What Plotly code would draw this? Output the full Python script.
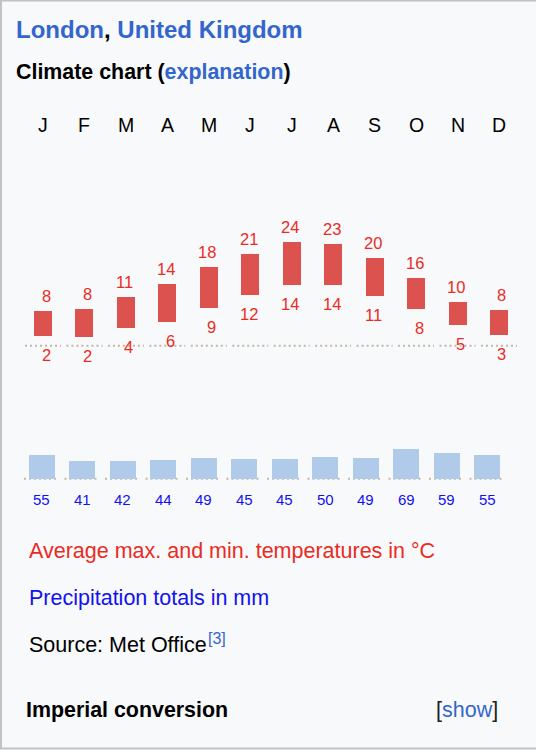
import plotly.graph_objects as go

# ---------------- data ----------------
months = ["J", "F", "M", "A", "M", "J", "J", "A", "S", "O", "N", "D"]
temp_max = [8.1, 8.6, 11.4, 14.4, 18.4, 21.5, 24.3, 23.8, 20.5, 15.9, 10.2, 8.3]
temp_min = [2.3, 2.1, 4.2, 5.6, 8.9, 11.9, 14.3, 14.1, 11.7, 8.7, 4.9, 2.6]
temp_max_labels = ["8", "8", "11", "14", "18", "21", "24", "23", "20", "16", "10", "8"]
temp_min_labels = ["2", "2", "4", "6", "9", "12", "14", "14", "11", "8", "5", "3"]
precip = [55, 41, 42, 44, 49, 45, 45, 50, 49, 69, 59, 55]
precip_labels = ["55", "41", "42", "44", "49", "45", "45", "50", "49", "69", "59", "55"]

# ---------------- layout helpers ----------------
W, H = 536, 752
def fx(px):
    return px / W
def fy(py):
    return 1 - py / H

FONT = "Liberation Sans, Arial, Helvetica, sans-serif"
RED_TXT = "#ea2b25"
BLUE_TXT = "#1212f0"
LINK = "#3366cc"
T_BAR = "#dc524f"
P_BAR = "#b0cbea"
DOT = "#c4b6a6"

# temperature panel geometry (px)
T_ZERO, T_SCALE = 345.7, 4.27
T_TOP, T_BOT = 140, 370
T_X0, T_STEP = 43.0, 41.45
# precipitation panel geometry (px)
P_ZERO, P_SCALE = 478.7, 0.43
P_TOP, P_BOT = 400, 490
P_X0, P_STEP = 41.5, 40.5

idx = list(range(len(months)))

fig = go.Figure()

fig.add_trace(go.Bar(
    x=idx, y=[a - b for a, b in zip(temp_max, temp_min)], base=temp_min,
    width=18 / T_STEP, marker=dict(color=T_BAR, line=dict(width=0)),
    xaxis="x", yaxis="y", hoverinfo="skip", showlegend=False,
))
fig.add_trace(go.Bar(
    x=idx, y=precip,
    width=26 / P_STEP, marker=dict(color=P_BAR, line=dict(width=0)),
    xaxis="x2", yaxis="y2", hoverinfo="skip", showlegend=False,
))

shapes = []
# box background + border
shapes.append(dict(type="rect", xref="paper", yref="paper",
                   x0=fx(1), x1=fx(620), y0=fy(748.5), y1=fy(0.5),
                   fillcolor="#f8f9fa", line=dict(color="#bfc2c6", width=2),
                   layer="below"))
# dotted zero lines per column
for i in idx:
    shapes.append(dict(type="line", xref="x", yref="y",
                       x0=i - 18 / T_STEP, x1=i + 18 / T_STEP, y0=0, y1=0,
                       line=dict(color=DOT, width=2, dash="2px,3px"), layer="below"))
    shapes.append(dict(type="line", xref="x2", yref="y2",
                       x0=i - 17.5 / P_STEP, x1=i + 17.5 / P_STEP, y0=0, y1=0,
                       line=dict(color=DOT, width=2, dash="2px,3px"), layer="below"))

ann = []
# title lines
ann.append(dict(xref="paper", yref="paper", x=fx(14), y=fy(29), xanchor="left", yanchor="middle",
                text="<b><span style='color:%s'>London</span>, <span style='color:%s'>United Kingdom</span></b>" % (LINK, LINK),
                showarrow=False, font=dict(family=FONT, size=24, color="#000000")))
ann.append(dict(xref="paper", yref="paper", x=fx(14), y=fy(72), xanchor="left", yanchor="middle",
                text="<b>Climate chart (<span style='color:%s'>explanation</span>)</b>" % LINK,
                showarrow=False, font=dict(family=FONT, size=21.4, color="#000000")))
# month letters
for i, m in zip(idx, months):
    ann.append(dict(xref="x", yref="paper", x=i, y=fy(125), xanchor="center", yanchor="middle",
                    text=m, showarrow=False, font=dict(family=FONT, size=19.5, color="#000000")))
# temperature labels
for i in idx:
    ann.append(dict(xref="x", yref="y", x=i, y=temp_max[i], xanchor="right", yanchor="middle",
                    xshift=9.5, yshift=15, text=temp_max_labels[i], showarrow=False,
                    font=dict(family=FONT, size=16.5, color=RED_TXT)))
    ann.append(dict(xref="x", yref="y", x=i, y=temp_min[i], xanchor="right", yanchor="middle",
                    xshift=9.5, yshift=-19, text=temp_min_labels[i], showarrow=False,
                    font=dict(family=FONT, size=16.5, color=RED_TXT)))
# precipitation labels
for i in idx:
    ann.append(dict(xref="x2", yref="paper", x=i, y=fy(499), xanchor="center", yanchor="middle",
                    text=precip_labels[i], showarrow=False,
                    font=dict(family=FONT, size=15, color=BLUE_TXT)))
# legend texts
ann.append(dict(xref="paper", yref="paper", x=fx(27), y=fy(551), xanchor="left", yanchor="middle",
                text="Average max. and min. temperatures in °C", showarrow=False,
                font=dict(family=FONT, size=21.5, color=RED_TXT)))
ann.append(dict(xref="paper", yref="paper", x=fx(27), y=fy(598), xanchor="left", yanchor="middle",
                text="Precipitation totals in mm", showarrow=False,
                font=dict(family=FONT, size=21.5, color=BLUE_TXT)))
ann.append(dict(xref="paper", yref="paper", x=fx(27), y=fy(645), xanchor="left", yanchor="middle",
                text="Source: Met Office", showarrow=False,
                font=dict(family=FONT, size=21.5, color="#000000")))
ann.append(dict(xref="paper", yref="paper", x=fx(206), y=fy(638), xanchor="left", yanchor="middle",
                text="[3]", showarrow=False,
                font=dict(family=FONT, size=16, color=LINK)))
ann.append(dict(xref="paper", yref="paper", x=fx(24), y=fy(710), xanchor="left", yanchor="middle",
                text="<b>Imperial conversion</b>", showarrow=False,
                font=dict(family=FONT, size=21.4, color="#000000")))
ann.append(dict(xref="paper", yref="paper", x=fx(500), y=fy(710), xanchor="right", yanchor="middle",
                text="[<span style='color:%s'>show</span>]" % LINK, showarrow=False,
                font=dict(family=FONT, size=21.5, color="#202122")))

hidden = dict(visible=False, showgrid=False, zeroline=False, fixedrange=True)

fig.update_layout(
    width=W, height=H,
    margin=dict(l=0, r=0, t=0, b=0),
    paper_bgcolor="#ffffff", plot_bgcolor="rgba(0,0,0,0)",
    showlegend=False, bargap=0,
    xaxis=dict(domain=[0, 1], range=[-T_X0 / T_STEP, (W - T_X0) / T_STEP], anchor="y", **hidden),
    yaxis=dict(domain=[fy(T_BOT), fy(T_TOP)],
               range=[(T_ZERO - T_BOT) / T_SCALE, (T_ZERO - T_TOP) / T_SCALE], anchor="x", **hidden),
    xaxis2=dict(domain=[0, 1], range=[-P_X0 / P_STEP, (W - P_X0) / P_STEP], anchor="y2", **hidden),
    yaxis2=dict(domain=[fy(P_BOT), fy(P_TOP)],
                range=[(P_ZERO - P_BOT) / P_SCALE, (P_ZERO - P_TOP) / P_SCALE], anchor="x2", **hidden),
    shapes=shapes, annotations=ann,
)

fig.write_html("out.html")
